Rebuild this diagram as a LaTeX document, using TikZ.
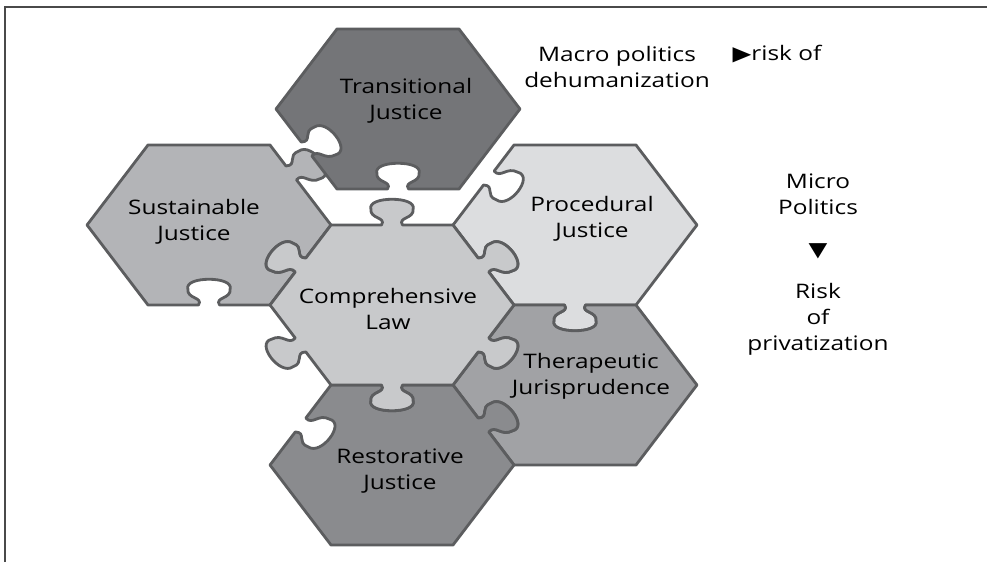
\documentclass[tikz,border=0pt]{standalone}
\usepackage{fontspec}
\setmainfont{Open Sans}
\newfontfamily\symf{DejaVu Sans}
\usetikzlibrary{positioning}
\usepackage{xcolor}
\definecolor{edgegray}{HTML}{5C5D5F}
\definecolor{framegray}{HTML}{4A4A4A}
\definecolor{transgray}{HTML}{747578}
\definecolor{restgray}{HTML}{8A8B8E}
\definecolor{theragray}{HTML}{A1A2A5}
\definecolor{sustgray}{HTML}{B3B4B7}
\definecolor{compgray}{HTML}{C8C9CB}
\definecolor{procgray}{HTML}{DCDDDF}
% puzzle knob on one edge: {offset}{angle of edge middle}{1 = tab, -1 = hole}
\newcommand\kn[3]{{[rotate=#2, shift={(80,#1)}] -- (0,-8)
  .. controls ({#3*8},-4) and ({#3*6},-17) .. ({#3*16},-16)
  .. controls ({#3*29},-19) and ({#3*29},19) .. ({#3*16},16)
  .. controls ({#3*6},17) and ({#3*8},4) .. (0,8)}}
% hexagon piece: position, fill, edges ur, t, ul, ll, b, lr
\newcommand\piece[8]{%
  \begin{scope}[shift={#1}, xscale=1.32]
    \filldraw[piece, fill=#2] (0:92.4) #3 -- (60:92.4) #4 -- (120:92.4) #5
      -- (180:92.4) #6 -- (240:92.4) #7 -- (300:92.4) #8 -- cycle;
  \end{scope}}
\begin{document}
\begin{tikzpicture}[x=1pt, y=1pt,
    piece/.style={draw=edgegray, line width=2.8pt, line join=round},
    lbl/.style={font=\fontsize{20}{26}\selectfont, align=center, xscale=1.22, inner sep=0pt}]
  \useasboundingbox (0,0) rectangle (987,-562);
  \draw[framegray, line width=1.3pt] (5,-562) -- (5,-7) -- (987,-7);

  \piece{(209,-225)}{sustgray}{\kn{14}{30}{1}}{}{}{}{\kn{0}{270}{-1}}{\kn{0}{330}{-1}}
  \piece{(398,-109)}{transgray}{}{}{}{\kn{0}{210}{-1}}{\kn{0}{270}{-1}}{}
  \piece{(575,-225)}{procgray}{}{}{\kn{-8}{150}{-1}}{\kn{0}{210}{-1}}{\kn{0}{270}{1}}{}
  \piece{(575,-385)}{theragray}{}{\kn{0}{90}{-1}}{\kn{0}{150}{-1}}{\kn{0}{210}{-1}}{}{}
  \piece{(392,-465)}{restgray}{\kn{0}{30}{1}}{\kn{0}{90}{-1}}{\kn{0}{150}{-1}}{}{}{}
  \piece{(392,-305)}{compgray}{\kn{0}{30}{1}}{\kn{0}{90}{1}}{\kn{0}{150}{1}}{\kn{0}{210}{1}}{\kn{0}{270}{1}}{\kn{0}{330}{1}}

  \node[lbl] (tj) at (406,-101) {Transitional\\Justice};
  \node[lbl] (sj) at (194,-222) {Sustainable\\Justice};
  \node[lbl] (cl) at (388,-309) {Comprehensive\\Law};
  \node[lbl] (pj) at (592,-219) {Procedural\\Justice};
  \node[lbl] (tp) at (591,-376) {Therapeutic\\Jurisprudence};
  \node[lbl] (rj) at (400,-471) {Restorative\\Justice};

  \node[lbl] (macro) at (617,-67) {Macro politics\\dehumanization};
  \node[lbl] (riskof) at (777,-54) {{\symf ▶}risk of};
  \node[lbl] (micro) at (818,-194) {Micro\\Politics};
  \node[lbl] (down) at (818,-251) {\symf ▼};
  \node[lbl] (risk) at (818,-319) {Risk\\of\\privatization};
\end{tikzpicture}
\end{document}
